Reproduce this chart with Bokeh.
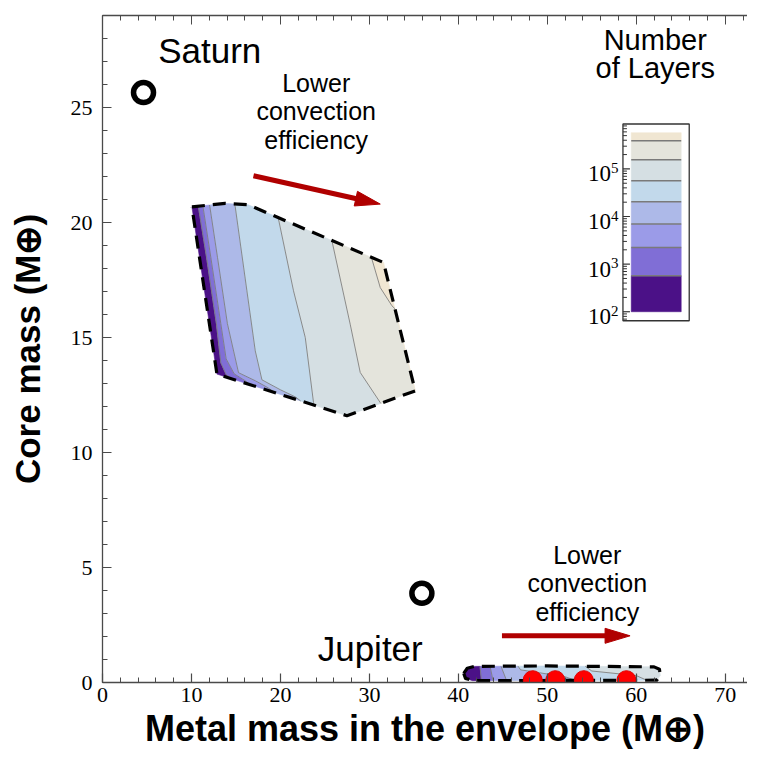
import numpy as np
from bokeh.plotting import figure
from bokeh.models import Range1d, LinearAxis, SingleIntervalTicker, ColumnDataSource
from bokeh.core.properties import value
from bokeh.embed import file_html
from bokeh.resources import INLINE

# ---------------- data ----------------
X_START, X_END = 0.0, 72.5
Y_START, Y_END = 0.0, 29.0

PLANET_NAMES = ["Saturn", "Jupiter"]
PLANET_X = [4.61, 35.9]          # metal mass in envelope
PLANET_Y = [25.65, 3.88]         # core mass

MODEL_X = [48.36, 50.89, 54.10, 58.89]
MODEL_Y = [0.10, 0.10, 0.10, 0.10]

LAYER_LEVELS = [100, 570, 2240, 6950, 20500, 56500, 156000, 391000, 577000]
LAYER_COLORS = ["#4b1187", "#806ed6", "#9b9be8", "#adb9e8",
                "#c2d9eb", "#d5dfe3", "#e4e4dc", "#f0e6d2"]
CB_TICK_EXPONENTS = [2, 3, 4, 5]

SAT_OUTLINE_X = [10.05, 13.79, 16.38, 31.59, 35.15, 27.47, 12.86]
SAT_OUTLINE_Y = [20.68, 20.83, 20.77, 18.26, 12.68, 11.60, 13.41]
SAT_CONTOUR_X = [
    [10.45, 10.78, 11.70, 12.80, 13.30, 13.91, 14.80, 15.25],
    [10.97, 11.30, 12.18, 13.30, 13.90, 14.80, 16.04, 16.83, 17.28],
    [11.77, 12.07, 12.93, 14.04, 15.29, 17.17, 18.63, 19.53, 19.98],
    [14.58, 14.92, 16.23, 17.17, 17.92, 19.98, 21.66, 22.56, 23.01],
    [19.47, 19.78, 21.47, 22.79, 23.72, 23.91],
    [25.37, 25.79, 27.84, 28.97, 31.22, 32.57],
    [29.98, 30.28, 31.22, 32.53, 34.03, 36.50, 37.00],
]
SAT_CONTOUR_Y = [
    [21.16, 20.68, 18.47, 15.60, 13.90, 13.38, 13.14, 12.86],
    [21.16, 20.68, 18.47, 15.60, 14.07, 13.42, 13.12, 12.86, 12.60],
    [21.16, 20.68, 18.47, 15.60, 13.47, 13.12, 12.81, 12.55, 12.29],
    [21.16, 20.68, 17.03, 14.42, 13.16, 12.73, 12.42, 12.16, 11.90],
    [20.73, 20.15, 17.03, 15.00, 12.17, 11.38],
    [19.86, 19.20, 15.58, 13.48, 12.17, 11.38],
    [18.99, 18.41, 17.17, 16.38, 15.81, 14.50, 11.00],
]

JUP_OUTLINE_X = [40.6, 41.0, 41.8, 50.0, 62.0, 62.6, 62.7, 62.3, 41.6, 40.8]
JUP_OUTLINE_Y = [0.40, 0.62, 0.70, 0.72, 0.68, 0.58, 0.30, 0.10, 0.08, 0.18]
JUP_CONTOUR_X = [
    [42.3, 42.7],
    [43.3, 44.1],
    [44.3, 45.8],
    [45.8, 47.0, 52.0, 56.0],
    [52.5, 55.0, 60.0, 63.5],
]
JUP_CONTOUR_Y = [
    [1.2, -0.3],
    [1.2, -0.3],
    [1.2, -0.3],
    [1.2, 0.55, 0.25, -0.3],
    [1.2, 0.50, 0.30, -0.3],
]

# ---------------- geometry helpers ----------------
def _orient(poly):
    a = 0.0
    for i in range(len(poly)):
        x0, y0 = poly[i]
        x1, y1 = poly[(i + 1) % len(poly)]
        a += x0 * y1 - x1 * y0
    return 1.0 if a > 0 else -1.0


def _side(p, a, b, o):
    return o * ((b[0] - a[0]) * (p[1] - a[1]) - (b[1] - a[1]) * (p[0] - a[0]))


def clip_polygon(subject, clip):
    o = _orient(clip)
    out = list(subject)
    n = len(clip)
    for i in range(n):
        a, b = clip[i], clip[(i + 1) % n]
        inp, out = out, []
        if not inp:
            break
        s = inp[-1]
        for e in inp:
            fs, fe = _side(s, a, b, o), _side(e, a, b, o)
            if fe >= 0:
                if fs < 0:
                    t = fs / (fs - fe)
                    out.append((s[0] + t * (e[0] - s[0]), s[1] + t * (e[1] - s[1])))
                out.append(e)
            elif fs >= 0:
                t = fs / (fs - fe)
                out.append((s[0] + t * (e[0] - s[0]), s[1] + t * (e[1] - s[1])))
            s = e
    return out


def clip_polyline(xs, ys, clip):
    o = _orient(clip)
    segs = []
    n = len(clip)
    for k in range(len(xs) - 1):
        p0, p1 = (xs[k], ys[k]), (xs[k + 1], ys[k + 1])
        t0, t1, ok = 0.0, 1.0, True
        for i in range(n):
            a, b = clip[i], clip[(i + 1) % n]
            f0, f1 = _side(p0, a, b, o), _side(p1, a, b, o)
            if f0 < 0 and f1 < 0:
                ok = False
                break
            if f0 < 0:
                t0 = max(t0, f0 / (f0 - f1))
            elif f1 < 0:
                t1 = min(t1, f0 / (f0 - f1))
        if ok and t0 < t1:
            segs.append((p0[0] + t0 * (p1[0] - p0[0]), p0[1] + t0 * (p1[1] - p0[1]),
                         p0[0] + t1 * (p1[0] - p0[0]), p0[1] + t1 * (p1[1] - p0[1])))
    return segs


def region_layers(out_x, out_y, cxs, cys):
    clip = list(zip(out_x, out_y))
    mx = 2.5
    my = (max(out_y) - min(out_y)) * 0.25 + 1.0
    left = ([min(out_x) - mx] * 2, [max(out_y) + my, min(out_y) - my])
    right = ([max(out_x) + mx] * 2, [max(out_y) + my, min(out_y) - my])
    lines = [left] + list(zip(cxs, cys)) + [right]
    pxs, pys, cols = [], [], []
    for k in range(len(lines) - 1):
        l0 = list(zip(*lines[k]))
        l1 = list(zip(*lines[k + 1]))
        poly = clip_polygon(l0 + l1[::-1], clip)
        if len(poly) >= 3:
            pxs.append([q[0] for q in poly])
            pys.append([q[1] for q in poly])
            cols.append(LAYER_COLORS[k])
    segs = []
    for xs, ys in zip(cxs, cys):
        segs += clip_polyline(xs, ys, clip)
    return pxs, pys, cols, segs


# ---------------- figure ----------------
FRAME_W, FRAME_H = 645, 667
B_LEFT, B_RIGHT, B_TOP, B_BOTTOM = 102, 0, 15, 76
AX = "#4a4a4a"
SANS = "Liberation Sans"
SERIF = "Liberation Serif"

p = figure(width=FRAME_W + B_LEFT + B_RIGHT, height=FRAME_H + B_TOP + B_BOTTOM,
           x_range=Range1d(X_START, X_END), y_range=Range1d(Y_START, Y_END),
           output_backend="svg", toolbar_location=None,
           min_border_left=B_LEFT, min_border_right=B_RIGHT,
           min_border_top=B_TOP, min_border_bottom=B_BOTTOM,
           background_fill_color="white", border_fill_color="white",
           outline_line_color=None)
p.xgrid.visible = False
p.ygrid.visible = False

for ax, interval in ((p.xaxis[0], 10), (p.yaxis[0], 5)):
    ax.ticker = SingleIntervalTicker(interval=interval, num_minor_ticks=5)
for ax in (p.xaxis[0], p.yaxis[0]):
    ax.axis_line_color = AX
    ax.axis_line_width = 1.3
    ax.major_tick_line_color = AX
    ax.minor_tick_line_color = AX
    ax.major_tick_line_width = 1.2
    ax.minor_tick_line_width = 1.0
    ax.major_tick_in = 9
    ax.major_tick_out = 0
    ax.minor_tick_in = 5
    ax.minor_tick_out = 0
    ax.major_label_text_font = SERIF
    ax.major_label_text_font_size = "22px"
    ax.major_label_text_color = "black"
    ax.axis_label_text_font = SANS
    ax.axis_label_text_font_style = "bold"
    ax.axis_label_text_color = "black"

p.xaxis[0].axis_label = "Metal mass in the envelope (M\u2295)"
p.yaxis[0].axis_label = "Core mass (M\u2295)"
p.xaxis[0].axis_label_text_font_size = "36px"
p.yaxis[0].axis_label_text_font_size = "35px"
p.xaxis[0].major_label_standoff = 5
p.xaxis[0].axis_label_standoff = 3
p.yaxis[0].major_label_standoff = 10
p.yaxis[0].axis_label_standoff = 21

top = LinearAxis(ticker=SingleIntervalTicker(interval=10, num_minor_ticks=5),
                 major_label_text_font_size="0px", major_label_text_color=None,
                 major_label_standoff=0,
                 axis_line_color=AX, axis_line_width=1.3,
                 major_tick_line_color=AX, minor_tick_line_color=AX,
                 major_tick_in=9, major_tick_out=0, minor_tick_in=5, minor_tick_out=0)
p.add_layout(top, "above")

# ---------------- contour regions ----------------
for ox, oy, cx, cy in ((SAT_OUTLINE_X, SAT_OUTLINE_Y, SAT_CONTOUR_X, SAT_CONTOUR_Y),
                       (JUP_OUTLINE_X, JUP_OUTLINE_Y, JUP_CONTOUR_X, JUP_CONTOUR_Y)):
    pxs, pys, cols, segs = region_layers(ox, oy, cx, cy)
    src = ColumnDataSource(dict(xs=pxs, ys=pys, c=cols))
    p.patches("xs", "ys", source=src, fill_color="c", line_color="c", line_width=0.6)
    if segs:
        s = np.array(segs)
        p.segment(s[:, 0], s[:, 1], s[:, 2], s[:, 3], line_color="#7a7a7a",
                  line_width=1.0, line_alpha=0.85)
    p.line(list(ox) + [ox[0]], list(oy) + [oy[0]], line_color="black",
           line_width=3.2, line_dash="13 8", line_join="round")

# ---------------- points ----------------
p.scatter(MODEL_X, MODEL_Y, marker="circle", size=19, fill_color="#ff0000",
          line_color="#e00000", line_width=1)
p.scatter(PLANET_X, PLANET_Y, marker="circle", size=20, fill_color=None,
          line_color="black", line_width=5.5)

# ---------------- arrows ----------------
sx = FRAME_W / (X_END - X_START)
sy = FRAME_H / (Y_END - Y_START)
ARROWS = [((16.97, 22.03), (31.22, 20.80)), ((44.9, 2.03), (59.3, 2.03))]
HEAD_L, HEAD_W = 25.0, 15.0
ARROW_C = "#b00000"
hx, hy, bx0, by0, bx1, by1 = [], [], [], [], [], []
for (x0, y0), (x1, y1) in ARROWS:
    dxp, dyp = (x1 - x0) * sx, (y1 - y0) * sy
    L = np.hypot(dxp, dyp)
    ux, uy = dxp / L, dyp / L
    basex, basey = x1 - HEAD_L * ux / sx, y1 - HEAD_L * uy / sy
    nx, ny = -uy, ux
    hx.append([x1, basex + HEAD_W / 2 * nx / sx, basex - HEAD_W / 2 * nx / sx])
    hy.append([y1, basey + HEAD_W / 2 * ny / sy, basey - HEAD_W / 2 * ny / sy])
    bx0.append(x0); by0.append(y0)
    bx1.append(x1 - (HEAD_L - 3) * ux / sx); by1.append(y1 - (HEAD_L - 3) * uy / sy)
p.segment(bx0, by0, bx1, by1, line_color=ARROW_C, line_width=5)
p.patches(hx, hy, fill_color=ARROW_C, line_color=ARROW_C, line_width=1)

# ---------------- texts ----------------
p.text(x=[12.05, 30.09], y=[27.47, 1.47], text=PLANET_NAMES, text_align="center",
       text_baseline="alphabetic", text_font=value(SANS), text_font_size="35px",
       text_color="black")
p.text(x=[24.02, 54.49], y=[24.84, 4.32],
       text=["Lower\nconvection\nefficiency", "Lower\nconvection\nefficiency"],
       text_align="center", text_baseline="middle", text_font=value(SANS),
       text_font_size="25px", text_line_height=1.02, text_color="black")
p.text(x=[62.13], y=[27.33], text=["Number\nof Layers"], text_align="center",
       text_baseline="middle", text_font=value(SANS), text_font_size="29px",
       text_line_height=0.9, text_color="black")

# ---------------- colour bar (log scale on its own range) ----------------
CB_Y_AT_100 = 16.12    # main-axis y where 10^2 sits
CB_DECADE = 2.07       # main-axis units per decade
p.extra_y_ranges = {"cb": Range1d(2 + (Y_START - CB_Y_AT_100) / CB_DECADE,
                                  2 + (Y_END - CB_Y_AT_100) / CB_DECADE)}
lv = np.log10(LAYER_LEVELS)
BOX_L, BOX_R = 58.5, 65.95
STRIP_L, STRIP_R = 59.43, 65.05
p.quad(left=[BOX_L], right=[BOX_R], bottom=[1.811], top=[5.943], y_range_name="cb",
       fill_color="white", line_color="#333333", line_width=1.3)
p.quad(left=STRIP_L, right=STRIP_R, bottom=lv[:-1], top=lv[1:], y_range_name="cb",
       fill_color=LAYER_COLORS, line_color=LAYER_COLORS, line_width=0.5)
p.segment(x0=STRIP_L, y0=lv[1:-1], x1=STRIP_R, y1=lv[1:-1], y_range_name="cb",
          line_color="#7a7a7a", line_width=1.6)
maj = np.array(CB_TICK_EXPONENTS, dtype=float)
minor = [np.log10(m * 10.0 ** k) for k in range(1, 6) for m in range(2, 10)]
minor = [v for v in minor if 1.811 < v < 5.943]
p.segment(x0=BOX_L, y0=maj, x1=BOX_L + 7 / sx, y1=maj, y_range_name="cb",
          line_color="#333333", line_width=1.2)
p.segment(x0=BOX_L, y0=minor, x1=BOX_L + 4 / sx, y1=minor, y_range_name="cb",
          line_color="#333333", line_width=1.0)
p.text(x=[BOX_L] * len(maj), y=maj, text=["10"] * len(maj), y_range_name="cb",
       x_offset=-12, y_offset=5, text_align="right", text_baseline="middle",
       text_font=value(SERIF), text_font_size="23px", text_color="black")
p.text(x=[BOX_L] * len(maj), y=maj, text=[str(e) for e in CB_TICK_EXPONENTS],
       y_range_name="cb", x_offset=-12, y_offset=-1, text_align="left",
       text_baseline="middle", text_font=value(SERIF), text_font_size="15px",
       text_color="black")

open("out.html", "w").write(file_html(p, INLINE))
